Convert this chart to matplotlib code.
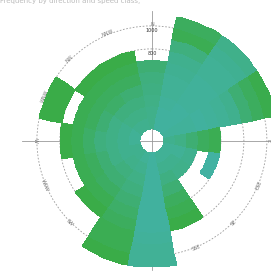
import numpy as np
import matplotlib
matplotlib.use("Agg")
import matplotlib.pyplot as plt
import matplotlib.transforms as mtransforms
from matplotlib.colors import LinearSegmentedColormap

# 16 sectors of 22.5 deg, clockwise from north
directions = ["N", "NNE", "NE", "ENE", "E", "ESE", "SE", "SSE",
              "S", "SSW", "SW", "WSW", "W", "WNW", "NW", "NNW"]
sector_deg = np.arange(16) * 22.5

# cell values per sector, one entry per ring (ring i = r from i+1 to i+2), nan = empty cell
cells = [
    [0.35, 0.35, 0.4, 0.45, 0.5, 0.6],
    [0.1, 0.1, 0.15, 0.2, 0.2, 0.25, 0.3, 0.5, 0.9, 0.8],
    [0.1, 0.1, 0.1, 0.15, 0.15, 0.15, 0.2, 0.2, 0.25, 0.35],
    [0.15, 0.15, 0.15, 0.1, 0.15, 0.2, 0.3, 0.6, 0.8, 0.95],
    [0.3, 0.4, 0.6, 0.8, 0.9],
    [0.2, 0.2, 0.3, np.nan, 0.05],
    [0.2, 0.3, 0.35],
    [0.2, 0.3, 0.45, 0.6, 0.8, 0.9, 1.0],
    [0.1, 0.1, 0.1, 0.1, 0.1, 0.1, 0.1, 0.15, 0.2, 0.2],
    [0.2, 0.3, 0.4, 0.5, 0.6, 0.7, 0.8, 0.9, 0.9, 1.0],
    [0.3, 0.35, 0.5, 0.6, 0.75, 0.9, 1.0],
    [0.3, 0.3, 0.4, 0.6, 0.8, 0.9],
    [0.2, 0.3, 0.4, 0.5, 0.7, 0.9, 1.0],
    [0.2, 0.3, 0.4, 0.6, 0.8, 0.9, np.nan, 1.0, 1.0],
    [0.3, 0.4, 0.5, 0.7, 0.8, 0.9, 1.0],
    [0.3, 0.4, 0.5, 0.6, 0.8, 0.9, 1.0],
]

r_ticks = [2, 4, 6, 8, 10]
r_tick_labels = ["200", "400", "600", "800", "1000"]

cmap = LinearSegmentedColormap.from_list("tealgreen", ["#42b2a6", "#3faf7e", "#3aac48"])

# grid of cells: rows = rings, cols = sectors (each sector split in sub-steps so the arcs stay round)
nring = 10
grid = np.full((nring, 16), np.nan)
for k, vals in enumerate(cells):
    grid[:len(vals), k] = vals
sub = 8
grid_fine = np.repeat(grid, sub, axis=1)
theta_edges = np.deg2rad(np.linspace(-11.25, 348.75, 16 * sub + 1))
r_edges = np.arange(1, nring + 2)

fig = plt.figure(figsize=(2.71, 2.72), dpi=100)
ax = fig.add_axes([0.081, 0.004, 0.959, 0.956], projection="polar")
ax.set_theta_zero_location("N")
ax.set_theta_direction(-1)

ax.pcolormesh(theta_edges, r_edges, np.ma.masked_invalid(grid_fine),
              cmap=cmap, vmin=0, vmax=1, shading="flat", zorder=2)

ax.set_ylim(0, 11.3)
ax.set_yticks(r_ticks)
ax.set_yticklabels(r_tick_labels, fontsize=3.5, color="#333333")
ax.set_rlabel_position(0)
shift = mtransforms.ScaledTranslation(0, -1.5 / 72, fig.dpi_scale_trans)
for lab in ax.get_yticklabels():
    lab.set_horizontalalignment("center")
    lab.set_verticalalignment("top")
    lab.set_transform(lab.get_transform() + shift)
    lab.set_zorder(5)
ax.yaxis.grid(True, color="#999999", linestyle=(0, (2, 2)), linewidth=0.6)

ax.set_xticks(np.deg2rad([0, 90, 180, 270]))
ax.set_xticklabels([])
ax.xaxis.grid(True, color="#9a9a9a", linewidth=0.6)
ax.set_axisbelow(True)
ax.spines["polar"].set_visible(False)
ax.set_facecolor("white")

# direction labels sit under the cells, like in the source
for k, name in enumerate(directions):
    ang = sector_deg[k]
    rot = -ang
    if rot < -90:
        rot += 180
    if rot < -90 or rot > 90:
        rot -= 180
    ax.text(np.deg2rad(ang), 10.1, name, fontsize=3.5, color="#777777",
            rotation=rot, ha="center", va="center", rotation_mode="anchor",
            zorder=1)

fig.text(0.0, 0.995, "Frequency by direction and speed class,", fontsize=5,
         color="#bbbbbb", ha="left", va="center")

fig.savefig("out.png", dpi=100)
